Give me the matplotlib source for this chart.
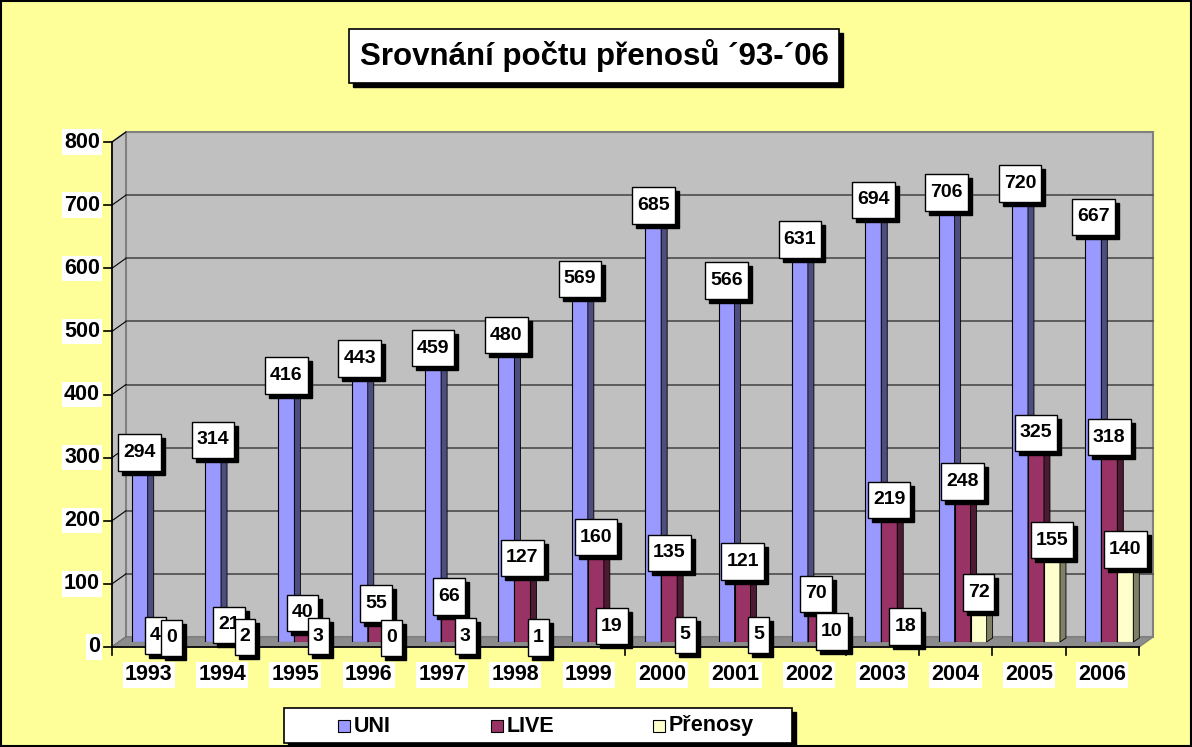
import matplotlib
matplotlib.use("Agg")
import matplotlib.pyplot as plt
from matplotlib.patches import Polygon, Rectangle
from matplotlib.path import Path
from matplotlib.transforms import ScaledTranslation

years = ["1993", "1994", "1995", "1996", "1997", "1998", "1999",
         "2000", "2001", "2002", "2003", "2004", "2005", "2006"]
uni = [294, 314, 416, 443, 459, 480, 569, 685, 566, 631, 694, 706, 720, 667]
live = [4, 21, 40, 55, 66, 127, 160, 135, 121, 70, 219, 248, 325, 318]
prenosy = [0, 2, 3, 0, 3, 1, 19, 5, 5, 10, 18, 72, 155, 140]
series_names = ["UNI", "LIVE", "Přenosy"]
title = "Srovnání počtu přenosů ´93-´06"
yticks = [0, 100, 200, 300, 400, 500, 600, 700, 800]

face = ["#9999FF", "#993366", "#FFFFCC"]
side = ["#4D4D80", "#4D1A33", "#808066"]
top = ["#7A7ACC", "#7A2952", "#CCCCA3"]

plt.rcParams["font.family"] = ["Liberation Sans", "DejaVu Sans"]
plt.rcParams["font.weight"] = "bold"

W, H = 1192, 747
fig = plt.figure(figsize=(W / 100, H / 100), dpi=100)
fig.patch.set_facecolor("#FFFF99")

# axes placed at mid depth of the pseudo 3d box (pixel layout)
L, R, T, B = 119, 1146, 137, 642
ax = fig.add_axes([L / W, 1 - B / H, (R - L) / W, (B - T) / H])
ax.set_xlim(-0.5, 13.5)
ax.set_ylim(0, 800)
ax.axis("off")

px_x = 14 / (R - L)          # data units per pixel
px_y = 800 / (B - T)
DX, DY = 7 * px_x, 5 * px_y  # half depth of walls
n = len(years)
x0, x1 = -0.5, n - 0.5

def poly(pts, fc, ec="none", lw=0.8, z=1):
    ax.add_patch(Polygon(pts, closed=True, facecolor=fc, edgecolor=ec,
                         linewidth=lw, zorder=z, clip_on=False))

def tallbox(x, y, w, h, m):
    # label box with more room above and below than at the sides
    px, py = 0.26 * m, 0.5 * m
    return Path([(x - px, y - py), (x + w + px, y - py), (x + w + px, y + h + py),
                 (x - px, y + h + py), (x - px, y - py)], closed=True)

# walls and floor
poly([(x0 - DX, -DY), (x0 + DX, DY), (x0 + DX, 800 + DY), (x0 - DX, 800 - DY)],
     "#C0C0C0", "#808080", 1.2, 1)
poly([(x0 + DX, DY), (x1 + DX, DY), (x1 + DX, 800 + DY), (x0 + DX, 800 + DY)],
     "#C0C0C0", "#808080", 1.5, 1)
for v in yticks[1:-1]:
    ax.plot([x0 + DX, x1 + DX], [v + DY, v + DY], color="#555555", lw=1.3,
            zorder=2, clip_on=False)
for v in yticks:
    ax.plot([x0 - DX, x0 + DX], [v - DY, v + DY], color="black", lw=0.8,
            zorder=2, clip_on=False)
poly([(x0 - DX, -DY), (x1 - DX, -DY), (x1 + DX, DY), (x0 + DX, DY)],
     "#8C8C8C", "#808080", 1.0, 3)

# axis lines, ticks and labels on the front edge
ax.plot([x0 - DX, x0 - DX], [-DY, 800 - DY], color="black", lw=1.2,
        zorder=3, clip_on=False)
ax.plot([x0 - DX, x1 - DX], [-DY, -DY], color="black", lw=1.2,
        zorder=3, clip_on=False)
for v in yticks:
    ax.plot([x0 - DX - 8 * px_x, x0 - DX], [v - DY, v - DY], color="black",
            lw=1.2, zorder=3, clip_on=False)
    ax.annotate(str(v), (x0 - DX, v - DY), xytext=(-12, 0),
                textcoords="offset pixels", ha="right", va="center",
                fontsize=15.5, fontweight="bold", zorder=3,
                annotation_clip=False,
                bbox=dict(boxstyle="square,pad=0.1", fc="white", ec="none"))
for k in range(n + 1):
    ax.plot([k - 0.5 - DX, k - 0.5 - DX], [-DY, -DY - 8 * px_y],
            color="black", lw=1.2, zorder=3, clip_on=False)
for i, y in enumerate(years):
    ax.annotate(y, (i - DX, -DY), xytext=(0, -28), textcoords="offset pixels",
                ha="center", va="center", fontsize=15.5, fontweight="bold",
                zorder=3, annotation_clip=False,
                bbox=dict(boxstyle="square,pad=0.1", fc="white", ec="none"))

# bars
bw = 16 * px_x
bdx, bdy = 6 * px_x, 4 * px_y
data = [uni, live, prenosy]
for i in range(n):
    for s in range(3):
        xl = i + (s - 1.5) * bw
        h = data[s][i]
        ax.bar(xl, h, width=bw, align="edge", color=face[s],
               edgecolor="black", linewidth=0.8, zorder=4)
        poly([(xl + bw, 0), (xl + bw + bdx, bdy), (xl + bw + bdx, h + bdy),
              (xl + bw, h)], side[s], "black", 0.6, 4)
        poly([(xl, h), (xl + bw, h), (xl + bw + bdx, h + bdy),
              (xl + bdx, h + bdy)], top[s], "black", 0.6, 4)

# data labels with shadow
for s in range(3):
    for i in range(n):
        xc = i + (s - 1) * bw
        h = data[s][i]
        z = 10 + s * 2
        ax.annotate(str(h), (xc, h), xytext=(4, 0), textcoords="offset pixels",
                    ha="center", va="center", fontsize=14, fontweight="bold",
                    color="black", zorder=z, annotation_clip=False,
                    bbox=dict(boxstyle=tallbox, fc="black", ec="black"))
        ax.annotate(str(h), (xc, h), xytext=(0, 4), textcoords="offset pixels",
                    ha="center", va="center", fontsize=14, fontweight="bold",
                    color="black", zorder=z + 1, annotation_clip=False,
                    bbox=dict(boxstyle=tallbox, fc="white", ec="black", lw=1.0))

# title with shadow
sh = ScaledTranslation(4 / 100, -4 / 100, fig.dpi_scale_trans)
fig.text(594 / W, 1 - 56 / H, title, ha="center", va="center", fontsize=22.5,
         fontweight="bold", transform=fig.transFigure + sh,
         bbox=dict(boxstyle="square,pad=0.33", fc="black", ec="black"))
fig.text(594 / W, 1 - 56 / H, title, ha="center", va="center", fontsize=22.5,
         fontweight="bold",
         bbox=dict(boxstyle="square,pad=0.33", fc="white", ec="black", lw=1.2))

# legend drawn by hand
def frect(x, y, w, h, fc, ec="black", lw=1.0, z=5):
    fig.patches.append(Rectangle((x / W, 1 - (y + h) / H), w / W, h / H,
                                 transform=fig.transFigure, facecolor=fc,
                                 edgecolor=ec, linewidth=lw, zorder=z))

frect(288, 712, 508, 35, "black", z=5)
frect(284, 708, 508, 35, "white", lw=1.2, z=6)
leg_x = [338, 491, 653]
for s, name in enumerate(series_names):
    frect(leg_x[s], 720, 12, 12, face[s], lw=0.8, z=7)
    fig.text((leg_x[s] + 16) / W, 1 - 726 / H, name, ha="left", va="center",
             fontsize=15.5, fontweight="bold", zorder=8)

frect(0.5, 0.5, W - 1.5, H - 1.5, "none", lw=1.5, z=9)

fig.savefig("out.png", dpi=100, facecolor=fig.get_facecolor())
